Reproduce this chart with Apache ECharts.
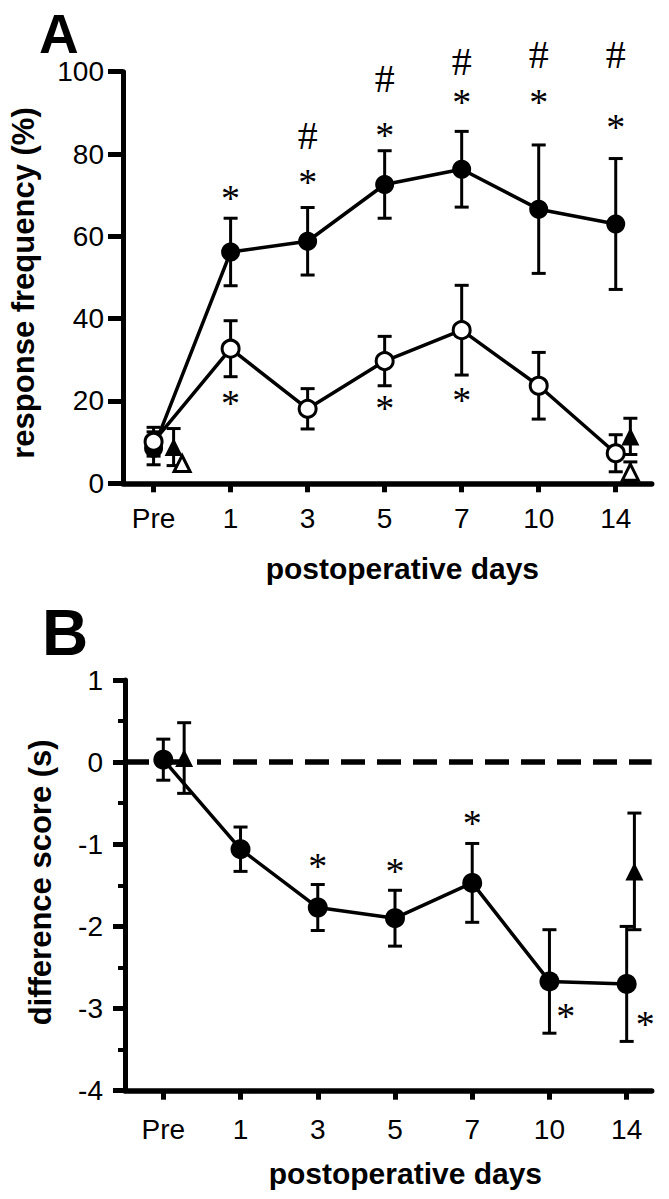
<!DOCTYPE html>
<html>
<head>
<meta charset="utf-8">
<script src="https://cdn.jsdelivr.net/npm/echarts@6/dist/echarts.min.js"></script>
<style>
html,body{margin:0;padding:0;background:#fff;}
#chart{width:669px;height:1199px;}
</style>
</head>
<body>
<div id="chart"></div>
<script>
// ---- categories / ticks ----
const categories = ['Pre', '1', '3', '5', '7', '10', '14'];
const dayIndex = [0, 1, 2, 3, 4, 5, 6];

// ---- Panel A: response frequency (%) ----
const aFilledMean = [8.5, 56.2, 58.8, 72.6, 76.3, 66.6, 63.0];
const aFilledSem  = [4.0, 8.2, 8.2, 8.2, 9.2, 15.6, 15.9];
const aOpenMean   = [10.1, 32.7, 18.1, 29.7, 37.2, 23.7, 7.3];
const aOpenSem    = [3.5, 6.8, 4.9, 6.0, 10.9, 8.1, 4.5];
const aTriFilledX    = [0.26, 6.19];
const aTriFilledMean = [8.8, 11.4];
const aTriFilledSem  = [4.5, 4.4];
const aTriOpenX    = [0.37, 6.19];
const aTriOpenMean = [4.8, 2.7];
const aTriOpenSem  = [0, 2.5];
// significance marks, panel A
const aStarAboveX = [1, 2, 3, 4, 5, 6];
const aStarAboveY = [70.7, 74.7, 86.2, 94.2, 94.2, 88.1];
const aHashX = [2, 3, 4, 5, 6];
const aHashY = [84.6, 98.4, 102.4, 104.3, 104.3];
const aStarBelowX = [1, 3, 4];
const aStarBelowY = [20.9, 19.7, 21.7];

// ---- Panel B: difference score (s) ----
const bMean = [0.03, -1.06, -1.77, -1.90, -1.47, -2.67, -2.70];
const bSem  = [0.25, 0.27, 0.28, 0.34, 0.48, 0.63, 0.70];
const bTriX    = [0.27, 6.10];
const bTriMean = [0.05, -1.33];
const bTriSem  = [0.43, 0.71];
const bStarX = [2, 3, 4, 5.21, 6.24];
const bStarY = [-1.19, -1.25, -0.67, -3.02, -3.11];

// ---- helpers ----
const zip2 = (xs, ys) => xs.map((x, i) => [x, ys[i]]);
const zip3 = (xs, ys, es) => xs.map((x, i) => [x, ys[i], es[i]]);
const SANS = '"Liberation Sans", Arial, Helvetica, sans-serif';
const SERIF = '"Liberation Serif", "Times New Roman", serif';

function errorBars(gridIdx, data, capHalf) {
  return {
    type: 'custom', xAxisIndex: gridIdx, yAxisIndex: gridIdx, z: 1,
    data: data, encode: {x: 0, y: 1},
    renderItem: function (params, api) {
      const x = api.value(0), m = api.value(1), e = api.value(2);
      if (!(e > 0)) return null;
      const t = api.coord([x, m + e]);
      const b = api.coord([x, m - e]);
      const st = {stroke: '#000', lineWidth: 3};
      return {type: 'group', children: [
        {type: 'line', shape: {x1: t[0], y1: t[1], x2: b[0], y2: b[1]}, style: st},
        {type: 'line', shape: {x1: t[0] - capHalf, y1: t[1], x2: t[0] + capHalf, y2: t[1]}, style: st},
        {type: 'line', shape: {x1: b[0] - capHalf, y1: b[1], x2: b[0] + capHalf, y2: b[1]}, style: st}
      ]};
    }
  };
}

function marks(gridIdx, data, sym, size, dy) {
  return {
    type: 'custom', xAxisIndex: gridIdx, yAxisIndex: gridIdx, z: 5,
    data: data, encode: {x: 0, y: 1}, clip: false,
    renderItem: function (params, api) {
      const p = api.coord([api.value(0), api.value(1)]);
      return {type: 'text', x: p[0], y: p[1] + dy,
        style: {text: sym, fontFamily: SERIF, fontSize: size, fill: '#000',
                align: 'center', verticalAlign: 'middle'}};
    }
  };
}

function xAxisCfg(gridIdx, min, max, padLeft) {
  return {
    type: 'value', gridIndex: gridIdx, min: min, max: max,
    splitLine: {show: false},
    axisLine: {show: true, onZero: false, lineStyle: {color: '#000', width: 5.5}},
    axisTick: {show: true, length: 9, customValues: dayIndex, lineStyle: {color: '#000', width: 5}},
    axisLabel: {customValues: dayIndex, formatter: v => categories[Math.round(v)],
                fontFamily: SANS, fontSize: 28, color: '#000', margin: gridIdx === 0 ? 21 : 25},
    name: 'postoperative days', nameLocation: 'middle', nameGap: gridIdx === 0 ? 70 : 68,
    nameTextStyle: {fontFamily: SANS, fontSize: 30, fontWeight: 'bold', color: '#000',
                    padding: [0, 0, 0, padLeft]}
  };
}

const chart = echarts.init(document.getElementById('chart'), null, {renderer: 'svg'});

const option = {
  animation: false,
  backgroundColor: '#fff',
  grid: [
    {left: 122.7, right: 17.3, top: 71.7, height: 411.6},
    {left: 125, right: 17.3, top: 680, height: 410.7}
  ],
  xAxis: [
    xAxisCfg(0, -0.397, 6.467, 30),
    xAxisCfg(1, -0.496, 6.324, 34)
  ],
  yAxis: [
    {
      type: 'value', gridIndex: 0, min: 0, max: 100, interval: 20,
      splitLine: {show: false},
      axisLine: {show: true, onZero: false, lineStyle: {color: '#000', width: 5}},
      axisTick: {show: true, length: 15, lineStyle: {color: '#000', width: 5}},
      axisLabel: {fontFamily: SANS, fontSize: 28, color: '#000', margin: 19},
      name: 'response frequency (%)', nameLocation: 'middle', nameGap: 84,
      nameTextStyle: {fontFamily: SANS, fontSize: 31, fontWeight: 'bold', color: '#000',
                      padding: [0, 11, 0, 0]}
    },
    {
      type: 'value', gridIndex: 1, min: -4, max: 1, interval: 1,
      splitLine: {show: false},
      axisLine: {show: true, onZero: false, lineStyle: {color: '#000', width: 5}},
      axisTick: {show: true, length: 12, lineStyle: {color: '#000', width: 5}},
      minorTick: {show: true, splitNumber: 2, length: 7, lineStyle: {color: '#000', width: 4}},
      axisLabel: {fontFamily: SANS, fontSize: 28, color: '#000', margin: 22},
      name: 'difference score (s)', nameLocation: 'middle', nameGap: 69,
      nameTextStyle: {fontFamily: SANS, fontSize: 31, fontWeight: 'bold', color: '#000',
                      padding: [0, 0, 0, 6]}
    }
  ],
  graphic: [
    {type: 'text', x: 39, y: 6, style: {text: 'A', font: 'bold 55px ' + SANS, lineHeight: 55, fill: '#000', align: 'left', verticalAlign: 'top'}},
    {type: 'text', x: 42, y: 609, style: {text: 'B', font: 'bold 64px ' + SANS, lineHeight: 48, fill: '#000', align: 'left', verticalAlign: 'top'}}
  ],
  series: [
    // ---- Panel A ----
    errorBars(0, zip3(dayIndex, aFilledMean, aFilledSem), 7),
    errorBars(0, zip3(dayIndex, aOpenMean, aOpenSem), 7),
    errorBars(0, zip3(aTriFilledX, aTriFilledMean, aTriFilledSem), 7),
    errorBars(0, zip3(aTriOpenX, aTriOpenMean, aTriOpenSem), 7),
    {
      type: 'line', xAxisIndex: 0, yAxisIndex: 0, z: 2,
      data: zip2(dayIndex, aFilledMean),
      symbol: 'circle', symbolSize: 19,
      itemStyle: {color: '#000', opacity: 1},
      lineStyle: {color: '#000', width: 3.5}
    },
    {
      type: 'scatter', xAxisIndex: 0, yAxisIndex: 0, z: 3,
      data: zip2(aTriFilledX, aTriFilledMean),
      symbol: 'triangle', symbolSize: 18,
      itemStyle: {color: '#000', opacity: 1}
    },
    {
      type: 'scatter', xAxisIndex: 0, yAxisIndex: 0, z: 3,
      data: zip2(aTriOpenX, aTriOpenMean),
      symbol: 'triangle', symbolSize: 16,
      itemStyle: {color: '#fff', borderColor: '#000', borderWidth: 3, opacity: 1}
    },
    {
      type: 'line', xAxisIndex: 0, yAxisIndex: 0, z: 4,
      data: zip2(dayIndex, aOpenMean),
      symbol: 'circle', symbolSize: 17,
      itemStyle: {color: '#fff', borderColor: '#000', borderWidth: 3, opacity: 1},
      lineStyle: {color: '#000', width: 3.5}
    },
    marks(0, zip2(aStarAboveX, aStarAboveY), '*', 38, 6),
    marks(0, zip2(aHashX, aHashY), '#', 40, 0),
    marks(0, zip2(aStarBelowX, aStarBelowY), '*', 38, 6),
    // ---- Panel B ----
    errorBars(1, zip3(dayIndex, bMean, bSem), 7),
    errorBars(1, zip3(bTriX, bTriMean, bTriSem), 7),
    {
      type: 'line', xAxisIndex: 1, yAxisIndex: 1, z: 2,
      data: zip2(dayIndex, bMean),
      symbol: 'circle', symbolSize: 20,
      itemStyle: {color: '#000', opacity: 1},
      lineStyle: {color: '#000', width: 3.5},
      markLine: {
        silent: true, symbol: 'none', label: {show: false},
        lineStyle: {color: '#000', width: 5.5, type: [24, 12]},
        data: [{yAxis: 0}]
      }
    },
    {
      type: 'scatter', xAxisIndex: 1, yAxisIndex: 1, z: 3,
      data: zip2(bTriX, bTriMean),
      symbol: 'triangle', symbolSize: 18,
      itemStyle: {color: '#000', opacity: 1}
    },
    marks(1, zip2(bStarX, bStarY), '*', 38, 6)
  ]
};
chart.setOption(option);
</script>
</body>
</html>
